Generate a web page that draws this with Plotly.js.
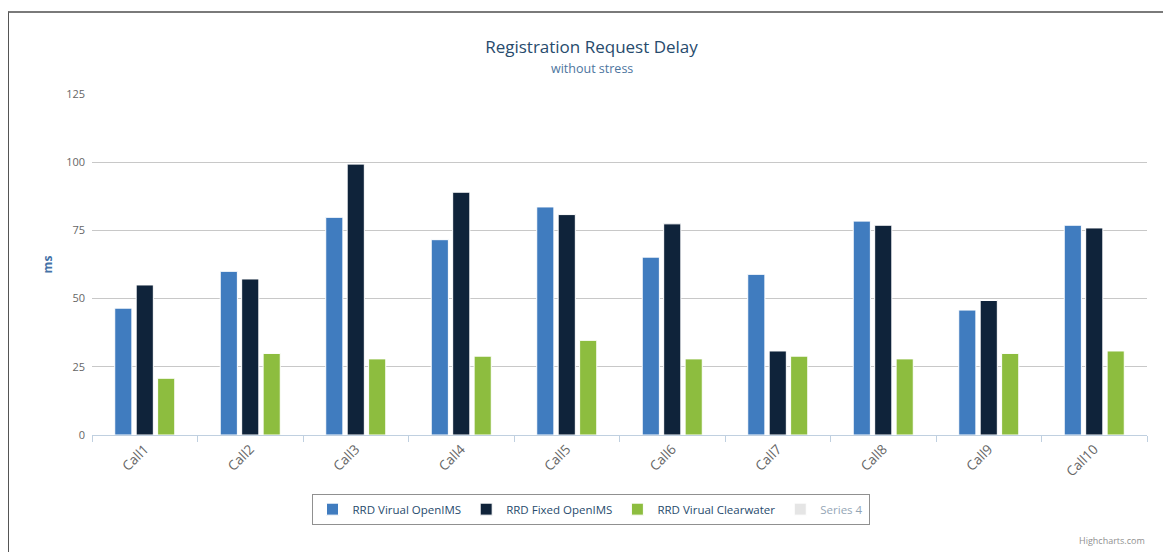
<!DOCTYPE html>
<html>
<head>
<meta charset="utf-8">
<script src="https://cdn.plot.ly/plotly-3.0.1.min.js"></script>
<style>
  html, body { margin: 0; padding: 0; background: #fff; }
  #chart { width: 1163px; height: 552px; }
  #frame { position: absolute; left: 8px; top: 11px; width: 1160px; height: 560px;
           border-top: 2px solid #7a7a7a; border-left: 1px solid #555; pointer-events: none; }
</style>
</head>
<body>
<div id="chart"></div>
<div id="frame"></div>
<script>
const categories = ["Call1","Call2","Call3","Call4","Call5","Call6","Call7","Call8","Call9","Call10"];
const virtualOpenIMS = [46.5, 60.0, 79.8, 71.6, 83.6, 65.2, 58.9, 78.4, 45.8, 76.9];
const fixedOpenIMS   = [55.0, 57.2, 99.3, 89.0, 80.8, 77.4, 30.8, 76.9, 49.3, 75.9];
const virtualClearwater = [20.8, 29.9, 27.9, 28.9, 34.7, 27.9, 28.9, 27.9, 29.9, 30.8];
const series4 = [null, null, null, null, null, null, null, null, null, null];
const seriesNames = ["RRD Virual OpenIMS", "RRD Fixed OpenIMS", "RRD Virual Clearwater", "Series 4"];
const yTicks = [0, 25, 50, 75, 100, 125];

const colors = ["#407cbf", "#0f233a", "#8dbd3f", "#cccccc"];
const font = "'Open Sans', 'DejaVu Sans', sans-serif";

function barTrace(name, y, color, extra) {
  return Object.assign({
    type: "bar", name: name, x: categories, y: y,
    marker: { color: color, line: { color: "#ffffff", width: 1 } },
    hoverinfo: "x+y+name"
  }, extra || {});
}

const data = [
  barTrace(seriesNames[0], virtualOpenIMS, colors[0]),
  barTrace(seriesNames[1], fixedOpenIMS, colors[1]),
  barTrace(seriesNames[2], virtualClearwater, colors[2]),
  barTrace(seriesNames[3], series4, colors[3], { visible: "legendonly" })
];

const layout = {
  width: 1163, height: 552,
  margin: { l: 92, r: 16, t: 94, b: 117 },
  paper_bgcolor: "#ffffff", plot_bgcolor: "#ffffff",
  font: { family: font, color: "#666666", size: 11 },
  title: {
    text: "Registration Request Delay",
    font: { family: font, size: 17, color: "#274b6d" },
    x: 591.5 / 1163, xref: "container", xanchor: "center",
    y: 1 - 47 / 552, yref: "container", yanchor: "middle"
  },
  barmode: "group",
  bargap: 0.39,
  bargroupgap: 0.2,
  showlegend: true,
  legend: {
    orientation: "h",
    x: (590.5 - 92) / 1055, xanchor: "center",
    y: -0.172, yanchor: "top",
    bordercolor: "#909090", borderwidth: 1,
    bgcolor: "#ffffff",
    font: { family: font, size: 11.5, color: "#274b6d" },
    traceorder: "normal",
    itemclick: false
  },
  xaxis: {
    type: "category",
    tickangle: -45,
    tickfont: { family: font, size: 13.5, color: "#666666" },
    showline: true, linecolor: "#c0d0e0", linewidth: 1,
    ticks: "outside", tickson: "boundaries", ticklen: 6, tickcolor: "#c0d0e0",
    showgrid: false, zeroline: false,
    fixedrange: true
  },
  yaxis: {
    range: [0, 125],
    tickvals: yTicks,
    ticktext: yTicks.map(String),
    tickfont: { family: font, size: 11, color: "#666666" },
    showgrid: true, gridcolor: "#c8c8c8", gridwidth: 1,
    zeroline: false, showline: false,
    ticks: "", ticklabelstandoff: 6,
    title: { text: "<b>ms</b>", font: { family: font, size: 12, color: "#4572a7" }, standoff: 10 },
    fixedrange: true
  },
  annotations: [{
    text: "without stress",
    xref: "paper", yref: "paper",
    x: (591.5 - 92) / 1055, xanchor: "center", y: (435 - 68) / 341, yanchor: "middle",
    showarrow: false,
    font: { family: font, size: 12.5, color: "#4d759e" }
  }, {
    text: "Highcharts.com",
    xref: "paper", yref: "paper",
    x: 1, xanchor: "right", y: -0.31, yanchor: "middle",
    showarrow: false,
    font: { family: font, size: 9, color: "#909090" }
  }]
};

Plotly.newPlot("chart", data, layout, { displayModeBar: false, staticPlot: false });
</script>
</body>
</html>
